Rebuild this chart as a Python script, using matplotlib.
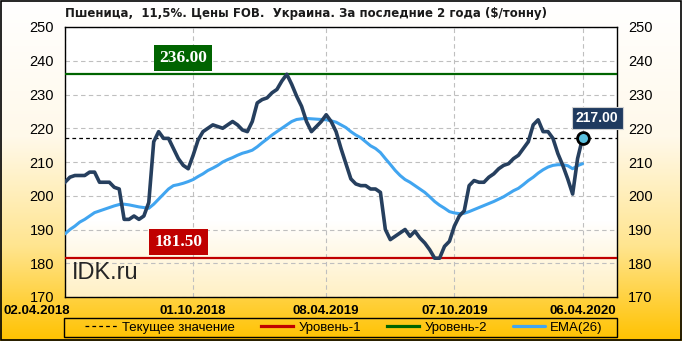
import numpy as np
import pandas as pd
import matplotlib
matplotlib.use('Agg')
import matplotlib.pyplot as plt
import matplotlib.dates as mdates
from matplotlib.colors import LinearSegmentedColormap
from matplotlib.transforms import ScaledTranslation

# weekly FOB prices, $/t
dates = pd.date_range('2018-04-02', periods=106, freq='7D')
price = [204, 205.5, 206, 206, 206, 207, 207, 204, 204, 204,
         202.5, 202, 193, 193, 194, 193, 194, 198, 216, 219,
         217, 217, 214, 211, 209, 208, 212, 216.5, 219, 220,
         221, 220.5, 220, 221, 222, 221, 219.5, 219, 222, 227.5,
         228.5, 229, 230.5, 231.5, 234, 236, 233, 229.5, 226.5, 222,
         219, 220.5, 222, 224, 222, 219, 214, 209.5, 205, 203.5,
         203, 203, 202, 202, 201, 190, 187, 188, 189, 190,
         188, 189.5, 187.5, 186, 184, 181.5, 181.5, 185, 186.5, 191,
         194, 195.5, 203, 204.5, 204, 204, 205.5, 206.5, 208, 209,
         209.5, 211, 212, 214, 216, 221, 222.5, 219, 219, 217,
         212.5, 209, 205, 200.5, 211, 217]
ema26 = [188.7, 190, 191, 192.2, 193, 194, 195, 195.5, 196, 196.5,
         197, 197.4, 197.5, 197.3, 197, 196.7, 196.5, 196.3, 197.5, 199,
         200.5, 202, 203, 203.3, 203.7, 204.2, 204.8, 205.7, 206.5, 207.5,
         208.2, 209, 210, 210.7, 211.3, 212, 212.6, 213, 213.5, 214.5,
         215.7, 216.8, 218, 219, 220, 221, 222, 222.6, 222.8, 222.9,
         222.8, 222.7, 222.6, 222.5, 222.2, 221.8, 221, 220.2, 219, 218,
         217.2, 216, 214.8, 214, 212.8, 211, 209.3, 207.5, 206, 204.8,
         204, 203, 202, 201, 199.7, 198.3, 197.2, 196.3, 195.3, 194.9,
         194.7, 194.8, 195.3, 195.9, 196.5, 197.1, 197.7, 198.3, 199, 199.7,
         200.6, 201.5, 202.2, 203.3, 204.5, 205.5, 206.7, 207.7, 208.5, 209,
         209.2, 209.2, 208.9, 208, 208.9, 209.5]
level_1 = 181.5
level_2 = 236.0
current = 217.0
tick_dates = pd.to_datetime(['2018-04-02', '2018-10-01', '2019-04-08', '2019-10-07', '2020-04-06'])

title = 'Пшеница,  11,5%. Цены FOB.  Украина. За последние 2 года ($/тонну)'

plt.rcParams['font.family'] = ['Liberation Sans', 'DejaVu Sans']

fig = plt.figure(figsize=(6.82, 3.41), dpi=100)

# background gradient: white -> gold
bg = fig.add_axes([0, 0, 1, 1], zorder=-10)
bg_cmap = LinearSegmentedColormap.from_list('bg', [(0, '#FFFFFF'), (0.4, '#FFF9EA'),
                                                   (0.72, '#FFE590'), (1, '#FFC200')])
grad = np.linspace(0, 1, 256).reshape(-1, 1)
bg.imshow(grad, aspect='auto', cmap=bg_cmap, extent=[0, 1, 0, 1], origin='upper')
bg.set_xlim(0, 1)
bg.set_ylim(0, 1)
bg.axis('off')
bg.add_patch(plt.Rectangle((0.0015, 0.003), 0.997, 0.994, fill=False, edgecolor='black', lw=1.2))
# legend frame
bg.add_patch(plt.Rectangle((64 / 682, 1 - 337 / 341), 553 / 682, 19 / 341, fill=False,
                           edgecolor='black', lw=1))

ax = fig.add_axes([65 / 682, 1 - 297 / 341, 552 / 682, 270 / 341])
ax.set_facecolor('none')

x0 = dates[0]
x1 = dates[0] + pd.Timedelta(weeks=112)
pa_cmap = LinearSegmentedColormap.from_list('pa', [(0, '#FFFFFF'), (0.72, '#FFFFFF'), (1, '#FFF0C4')])
ax.imshow(grad, aspect='auto', cmap=pa_cmap, origin='upper', zorder=0,
          extent=[mdates.date2num(x0), mdates.date2num(x1), 170, 250])

ax.grid(True, color='#BFBFBF', linestyle=(0, (4, 3)), linewidth=0.8, zorder=1)

ax.axhline(level_2, color='#006400', lw=1.6, zorder=3, label='Уровень-2')
ax.axhline(level_1, color='#C00000', lw=1.6, zorder=3, label='Уровень-1')
ax.axhline(current, color='black', lw=0.9, linestyle=(0, (3, 2.5)), zorder=3, label='Текущее значение')

ax.plot(dates, ema26, color='#41A5F0', lw=2.2, zorder=4, label='EMA(26)', solid_capstyle='round')
ax.plot(dates, price, color='#263F5E', lw=2.6, zorder=5, solid_joinstyle='round')
ax.plot(dates[-1], price[-1], 'o', ms=8.5, mfc='#5BC0DE', mec='black', mew=2, zorder=6)

ax.text(x0 + pd.Timedelta(weeks=24), 240.8, f'{level_2:.2f}', color='white', fontsize=12.5,
        fontweight='bold', family='Liberation Serif', ha='center', va='center', zorder=7,
        bbox=dict(boxstyle='square,pad=0.3', fc='#006400', ec='none'))
ax.text(x0 + pd.Timedelta(weeks=23), 186.3, f'{level_1:.2f}', color='white', fontsize=12.5,
        fontweight='bold', family='Liberation Serif', ha='center', va='center', zorder=7,
        bbox=dict(boxstyle='square,pad=0.3', fc='#C00000', ec='none'))
ax.text(x0 + pd.Timedelta(weeks=108), 223.1, f'{current:.2f}', color='white', fontsize=10,
        fontweight='bold', ha='center', va='center', zorder=7, clip_on=False,
        bbox=dict(boxstyle='square,pad=0.3', fc='#1F3A5F', ec='#D0D0D0', lw=0.8))
ax.text(0.013, 0.065, 'IDK.ru', transform=ax.transAxes, fontsize=17, color='#262626',
        ha='left', va='baseline', zorder=7)

ax.set_xlim(x0, x1)
ax.set_ylim(170, 250)
ax.set_yticks(np.arange(170, 251, 10))
ax.set_xticks(tick_dates)
ax.xaxis.set_major_formatter(mdates.DateFormatter('%d.%m.%Y'))
ax.tick_params(axis='x', length=0, pad=6, labelsize=9.5)
ax.tick_params(axis='y', length=0, pad=8, labelsize=10.5, labelright=True, right=True)
for lab in ax.get_xticklabels():
    lab.set_fontweight('bold')
first = ax.get_xticklabels()[0]
first.set_transform(first.get_transform() + ScaledTranslation(-28 / 100, 0, fig.dpi_scale_trans))
for sp in ax.spines.values():
    sp.set_color('black')
    sp.set_linewidth(1)

fig.text(65 / 682, 1 - 14 / 341, title, fontsize=8.5, fontweight='bold', color='#1A1A1A',
         family='DejaVu Sans', ha='left', va='center')

h, l = ax.get_legend_handles_labels()
order = ['Текущее значение', 'Уровень-1', 'Уровень-2', 'EMA(26)']
hh = [h[l.index(o)] for o in order]
leg = fig.legend(hh, order, loc='center', ncol=4, bbox_to_anchor=(344 / 682, 1 - 327.5 / 341),
                 frameon=False, fontsize=9.5, handlelength=2.4, handletextpad=0.4,
                 columnspacing=2.0, borderpad=0, borderaxespad=0)
for ln in leg.get_lines():
    if ln.get_linestyle() == '-':
        ln.set_linewidth(2.3)

fig.savefig('out.png', dpi=100)
